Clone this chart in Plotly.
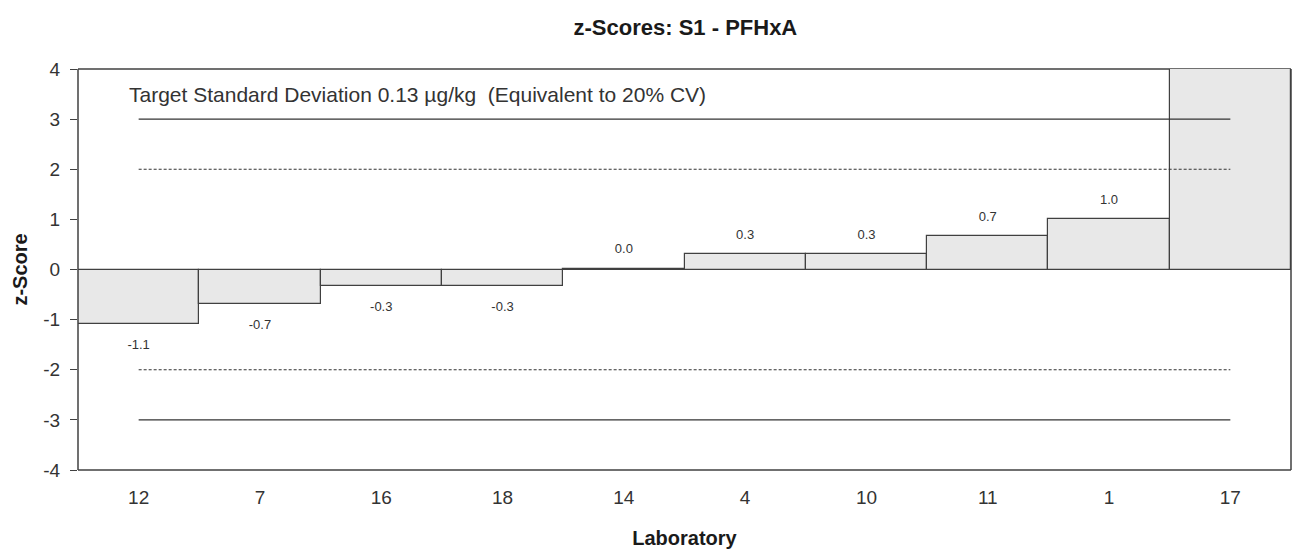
import plotly.graph_objects as go

# Laboratories ordered by z-score
labs = ["12", "7", "16", "18", "14", "4", "10", "11", "1", "17"]
z_scores = [-1.08, -0.68, -0.33, -0.33, 0.02, 0.30, 0.30, 0.66, 1.00, 7.50]

y_ticks = [4, 3, 2, 1, 0, -1, -2, -3, -4]
y_tick_text = ["4", "3", "2", "1", "0", "-1", "-2", "-3", "-4"]
warning_limit = 2
action_limit = 3
y_min, y_max = -4, 4

FONT = "Liberation Sans, Arial, sans-serif"
INK = "#333333"
EDGE = "#404040"

x = list(range(len(labs)))

fig = go.Figure()

fig.add_trace(go.Bar(
    x=x, y=z_scores, width=1.0,
    marker=dict(color="#e8e8e8", line=dict(color=EDGE, width=1.2)),
    hoverinfo="skip", showlegend=False,
))

# Action (solid) and warning (dashed) limits, from first to last lab centre
for lvl, dash in [(action_limit, "solid"), (-action_limit, "solid"),
                  (warning_limit, "3px,2px"), (-warning_limit, "3px,2px")]:
    fig.add_trace(go.Scatter(
        x=[x[0], x[-1]], y=[lvl, lvl], mode="lines",
        line=dict(color=INK, width=1.2, dash=dash),
        hoverinfo="skip", showlegend=False,
    ))

# Value labels above positive bars, below negative ones (only those in range)
lx, ly, lt = [], [], []
for xi, v in zip(x, z_scores):
    if y_min <= v <= y_max:
        lx.append(xi)
        ly.append(v + (0.38 if v >= 0 else -0.44))
        lt.append(f"{v:.1f}")
fig.add_trace(go.Scatter(
    x=lx, y=ly, text=lt, mode="text",
    textfont=dict(family=FONT, size=13, color=INK),
    hoverinfo="skip", showlegend=False, cliponaxis=False,
))

frame = dict(type="line", xref="paper", yref="paper",
             line=dict(color=EDGE, width=1.5))
fig.update_layout(
    width=1292, height=555,
    margin=dict(l=78, r=1, t=69, b=85),
    paper_bgcolor="white", plot_bgcolor="white",
    bargap=0,
    font=dict(family=FONT, color=INK),
    title=dict(text="<b>z-Scores: S1 - PFHxA</b>", x=0.5305, xanchor="center",
               y=0.95, yanchor="middle",
               font=dict(family=FONT, size=22, color="#1a1a1a")),
    xaxis=dict(range=[-0.5, len(labs) - 0.5], tickvals=x, ticktext=labs,
               showgrid=False, zeroline=False, showline=False, ticks="",
               ticklabelstandoff=14,
               tickfont=dict(family=FONT, size=19, color=INK),
               title=dict(text="<b>Laboratory</b>", standoff=23,
                          font=dict(family=FONT, size=20, color="#1a1a1a"))),
    yaxis=dict(range=[y_min, y_max], tickvals=y_ticks, ticktext=y_tick_text,
               showgrid=False, zeroline=False, showline=False,
               ticks="outside", ticklen=7, tickcolor=EDGE, tickwidth=1.2,
               ticklabelstandoff=6,
               tickfont=dict(family=FONT, size=19, color=INK),
               title=dict(text="<b>z-Score</b>", standoff=10,
                          font=dict(family=FONT, size=20, color="#1a1a1a"))),
    shapes=[
        # plot-area frame; the top edge sits under the bars
        dict(frame, x0=0, x1=1, y0=1, y1=1, layer="below"),
        dict(frame, x0=0, x1=0, y0=0, y1=1),
        dict(frame, x0=0, x1=1, y0=0, y1=0),
        dict(frame, x0=1, x1=1, y0=0, y1=1),
        # zero line across the full width
        dict(type="line", xref="paper", yref="y", x0=0, x1=1, y0=0, y1=0,
             line=dict(color=EDGE, width=1.2)),
    ],
    annotations=[dict(
        text="Target Standard Deviation 0.13 µg/kg  (Equivalent to 20% CV)",
        xref="paper", yref="y", x=0.04, y=3.5, xanchor="left", yanchor="middle",
        showarrow=False, font=dict(family=FONT, size=21, color=INK),
    )],
)

fig.write_html("out.html")
